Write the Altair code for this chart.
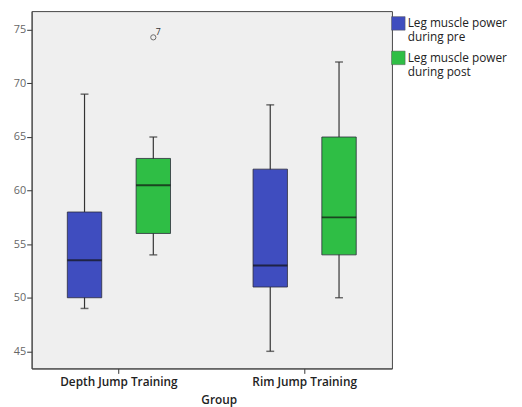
import altair as alt
import pandas as pd

groups = ["Depth Jump Training", "Depth Jump Training", "Rim Jump Training", "Rim Jump Training"]
series = ["Leg muscle power during pre", "Leg muscle power during post",
          "Leg muscle power during pre", "Leg muscle power during post"]
low = [49, 54, 45, 50]
q1 = [50, 56, 51, 54]
median = [53.5, 60.5, 53, 57.5]
q3 = [58, 63, 62, 65]
high = [69, 65, 68, 72]

out_group = ["Depth Jump Training"]
out_series = ["Leg muscle power during post"]
out_value = [74.3]
out_label = ["7"]

series_order = ["Leg muscle power during pre", "Leg muscle power during post"]
colors = ["#3F4DBF", "#2FBE45"]
y_ticks = [45, 50, 55, 60, 65, 70, 75]

df = pd.DataFrame({"group": groups, "series": series, "low": low, "q1": q1,
                   "median": median, "q3": q3, "high": high})
odf = pd.DataFrame({"group": out_group, "series": out_series,
                    "value": out_value, "label": out_label})

FONT = "Open Sans"

x_enc = alt.X("group:N", title="Group",
              scale=alt.Scale(paddingInner=0.2, paddingOuter=0.07),
              axis=alt.Axis(labelAngle=0, labelFont=FONT, labelFontSize=12,
                            labelColor="#222", labelFontWeight=600,
                            titleFont=FONT, titleFontSize=12, titleFontWeight=600,
                            titleColor="#222", tickColor="#333", tickSize=5,
                            domainColor="#444", labelPadding=3, titlePadding=1,
                            titleX=190, titleY=27))
xo_enc = alt.XOffset("series:N", sort=series_order,
                     scale=alt.Scale(paddingInner=0.5, paddingOuter=0.33))
y_scale = alt.Scale(domain=[43.4, 76.75], nice=False, zero=False)
y_axis = alt.Axis(values=y_ticks, grid=False, labelFont=FONT, labelFontSize=11,
                  labelColor="#666", tickColor="#333", tickSize=5,
                  domainColor="#444", labelPadding=1)

base = alt.Chart(df)

whisk = base.mark_rule(color="#333", strokeWidth=1.2).encode(
    x=x_enc, xOffset=xo_enc,
    y=alt.Y("low:Q", scale=y_scale, axis=y_axis, title=None),
    y2="high:Q")

caps_lo = base.mark_tick(color="#333", size=8, thickness=1.5).encode(
    x=x_enc, xOffset=xo_enc, y=alt.Y("low:Q", scale=y_scale))
caps_hi = base.mark_tick(color="#333", size=8, thickness=1.5).encode(
    x=x_enc, xOffset=xo_enc, y=alt.Y("high:Q", scale=y_scale))

box = base.mark_bar(stroke="#2a2a3a", strokeWidth=0.8, opacity=1).encode(
    x=x_enc, xOffset=xo_enc,
    y=alt.Y("q1:Q", scale=y_scale), y2="q3:Q",
    color=alt.Color("series:N", sort=series_order,
                    scale=alt.Scale(domain=series_order, range=colors),
                    legend=alt.Legend(title=None, orient="none",
                                      legendX=365, legendY=5,
                                      symbolType="square", symbolSize=190,
                                      symbolStrokeColor="#555", symbolStrokeWidth=0.5,
                                      labelFont=FONT, labelFontSize=12,
                                      labelColor="#222", labelLimit=200,
                                      labelOffset=2, rowPadding=6,
                                      labelExpr="[slice(datum.label,0,16), slice(datum.label,17)]")))

med = base.mark_tick(color="#111", size=35, thickness=2).encode(
    x=x_enc, xOffset=xo_enc, y=alt.Y("median:Q", scale=y_scale))

ob = alt.Chart(odf)
opt = ob.mark_point(shape="circle", filled=False, color="#333", size=28,
                    strokeWidth=1).encode(
    x=x_enc, xOffset=xo_enc, y=alt.Y("value:Q", scale=y_scale))
otext = ob.mark_text(dx=5, dy=-5, fontSize=9, font=FONT, color="#333").encode(
    x=x_enc, xOffset=xo_enc, y=alt.Y("value:Q", scale=y_scale), text="label:N")

chart = alt.layer(whisk, caps_lo, caps_hi, box, med, opt, otext).properties(
    width=366, height=363,
    autosize=alt.AutoSizeParams(type="none"),
    padding={"left": 24, "top": 0, "right": 124, "bottom": 36},
).configure_view(fill="#EFEFEF", stroke="#444", strokeWidth=1)

chart.save("out.html", embed_options={"renderer": "svg", "actions": False})
